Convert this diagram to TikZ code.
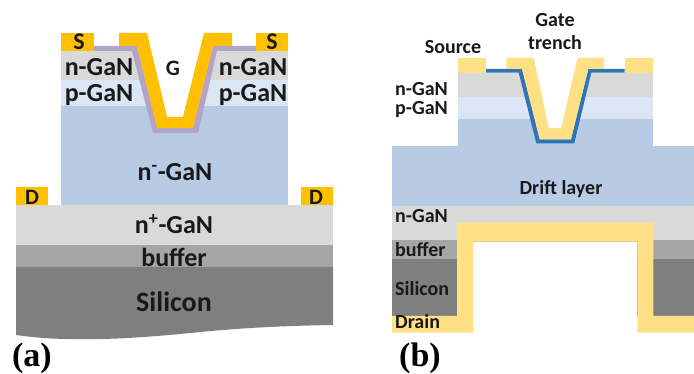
\documentclass[tikz,border=0pt]{standalone}
\usepackage{fontspec}
\setmainfont{Carlito}
\newfontfamily\panelfont{Liberation Serif}
\usepackage{xcolor}
\definecolor{goldmetal}{RGB}{255,192,0}
\definecolor{lightmetal}{RGB}{255,224,133}
\definecolor{ngan}{RGB}{217,217,217}
\definecolor{pgan}{RGB}{220,229,243}
\definecolor{driftblue}{RGB}{183,204,228}
\definecolor{buffergray}{RGB}{166,166,166}
\definecolor{silicongray}{RGB}{127,127,127}
\definecolor{oxidepurple}{RGB}{179,163,199}
\definecolor{oxideblue}{RGB}{46,117,182}
\tikzset{
  biglabel/.style={font=\bfseries\fontsize{26}{26}\selectfont,text=black!90,inner sep=0pt},
  padlabel/.style={font=\bfseries\fontsize{24}{24}\selectfont,text=black!90,inner sep=0pt},
  smalllabel/.style={font=\bfseries\fontsize{20}{20}\selectfont,text=black!90,inner sep=0pt},
  sidelabel/.style={smalllabel,anchor=west},
  panellabel/.style={font=\panelfont\bfseries\fontsize{34}{34}\selectfont,inner sep=0pt}
}

\begin{document}
\begin{tikzpicture}[x=1pt,y=-1pt]
  \useasboundingbox (0,0) rectangle (694,374);

  % panel (a)
  \fill[driftblue] (61,106) rectangle (288,206);
  \fill[pgan] (61,80) rectangle (288,106);
  \fill[ngan] (61,51) rectangle (288,80);
  \fill[ngan] (16,205) rectangle (333,245);
  \fill[buffergray] (16,245) rectangle (333,267);
  \fill[silicongray] (16,267) -- (333,267) -- (333,325) .. controls (270,326) and (230,329) .. (190,333) .. controls (150,337) and (110,340) .. (70,339) .. controls (50,339) and (30,337) .. (16,335) -- cycle;
  \fill[white] (147,33) -- (167,117) -- (183,117) -- (204,33) -- cycle;
  \fill[oxidepurple] (94,46) -- (137,46) -- (157,128) -- (193,128) -- (213,46) -- (256,46) -- (256,51) -- (217,51) -- (198,133) -- (153,133) -- (132,51) -- (94,51) -- cycle;
  \fill[goldmetal] (119,33) -- (147,33) -- (167,117) -- (183,117) -- (204,33) -- (232,33) -- (232,46) -- (213,46) -- (193,128) -- (157,128) -- (137,46) -- (119,46) -- cycle;
  \fill[goldmetal] (61,33) rectangle (94,51);
  \fill[goldmetal] (256,33) rectangle (288,51);
  \fill[goldmetal] (16,187) rectangle (48,205);
  \fill[goldmetal] (301,187) rectangle (333,205);

  \node[padlabel] (srcleft) at (79,42) {S};
  \node[padlabel] (srcright) at (272,42) {S};
  \node[padlabel,font=\bfseries\fontsize{22}{22}\selectfont] (drainleft) at (32,197) {D};
  \node[padlabel,font=\bfseries\fontsize{22}{22}\selectfont] (drainright) at (316,197) {D};
  \node[smalllabel,font=\bfseries\fontsize{22}{22}\selectfont] (gate) at (173,68) {G};
  \node[biglabel] (nleft) at (99,67) {n-GaN};
  \node[biglabel] (pleft) at (99,95) {p-GaN};
  \node[biglabel] (nright) at (253,67) {n-GaN};
  \node[biglabel] (pright) at (253,95) {p-GaN};
  \node[biglabel] (driftgan) at (175,172) {n\textsuperscript{-}-GaN};
  \node[biglabel] (nplus) at (174,224) {n\textsuperscript{+}-GaN};
  \node[biglabel] (bufa) at (174,257) {buffer};
  \node[biglabel,font=\bfseries\fontsize{28}{28}\selectfont] (sia) at (174,302) {Silicon};
  \node[panellabel] (panela) at (32,358) {(a)};

  % panel (b)
  \fill[driftblue] (458,119) rectangle (653,146);
  \fill[driftblue] (392,146) rectangle (694,206);
  \fill[pgan] (458,97.5) rectangle (653,119);
  \fill[ngan] (458,73) rectangle (653,97.5);
  \fill[ngan] (392,206) rectangle (694,240);
  \fill[buffergray] (392,240) rectangle (694,259);
  \fill[silicongray] (392,259) rectangle (694,316);
  \fill[white] (533.7,57.7) -- (548.7,128.3) -- (561.3,128.3) -- (577.7,57.7) -- cycle;
  \fill[white] (473,242) rectangle (637,333);
  \fill[oxideblue] (485.7,69) -- (522,69) -- (539.7,139.3) -- (571,139.3) -- (588.3,69) -- (624.7,69) -- (624.7,72.7) -- (591.3,72.7) -- (574.3,143.3) -- (536.3,143.3) -- (518.7,72.7) -- (485.7,72.7) -- cycle;
  \fill[lightmetal] (506.3,57.7) -- (533.7,57.7) -- (548.7,128.3) -- (561.3,128.3) -- (577.7,57.7) -- (604,57.7) -- (604,69) -- (588.3,69) -- (571,139.3) -- (539.7,139.3) -- (522,69) -- (506.3,69) -- cycle;
  \fill[lightmetal] (457.7,57.7) rectangle (485.7,72.7);
  \fill[lightmetal] (624.7,57.7) rectangle (652.7,72.7);
  \fill[lightmetal] (457,222.7) -- (653.3,222.7) -- (653.3,316) -- (694,316) -- (694,332.7) -- (637.3,332.7) -- (637.3,241.7) -- (473,241.7) -- (473,332.7) -- (392,332.7) -- (392,316) -- (457,316) -- cycle;

  \node[smalllabel] (source) at (453,47) {Source};
  \node[smalllabel] (gatetop) at (555,20) {Gate};
  \node[smalllabel] (trench) at (555,43) {trench};
  \node[sidelabel] (nupper) at (395,89) {n-GaN};
  \node[sidelabel] (pupper) at (395,110) {p-GaN};
  \node[smalllabel] (driftlayer) at (561,189) {Drift layer};
  \node[sidelabel] (nlower) at (395,216) {n-GaN};
  \node[sidelabel] (bufb) at (395,250) {buffer};
  \node[sidelabel] (sib) at (395,289) {Silicon};
  \node[sidelabel] (drain) at (395,322) {Drain};
  \node[panellabel] (panelb) at (420,358) {(b)};
\end{tikzpicture}
\end{document}
